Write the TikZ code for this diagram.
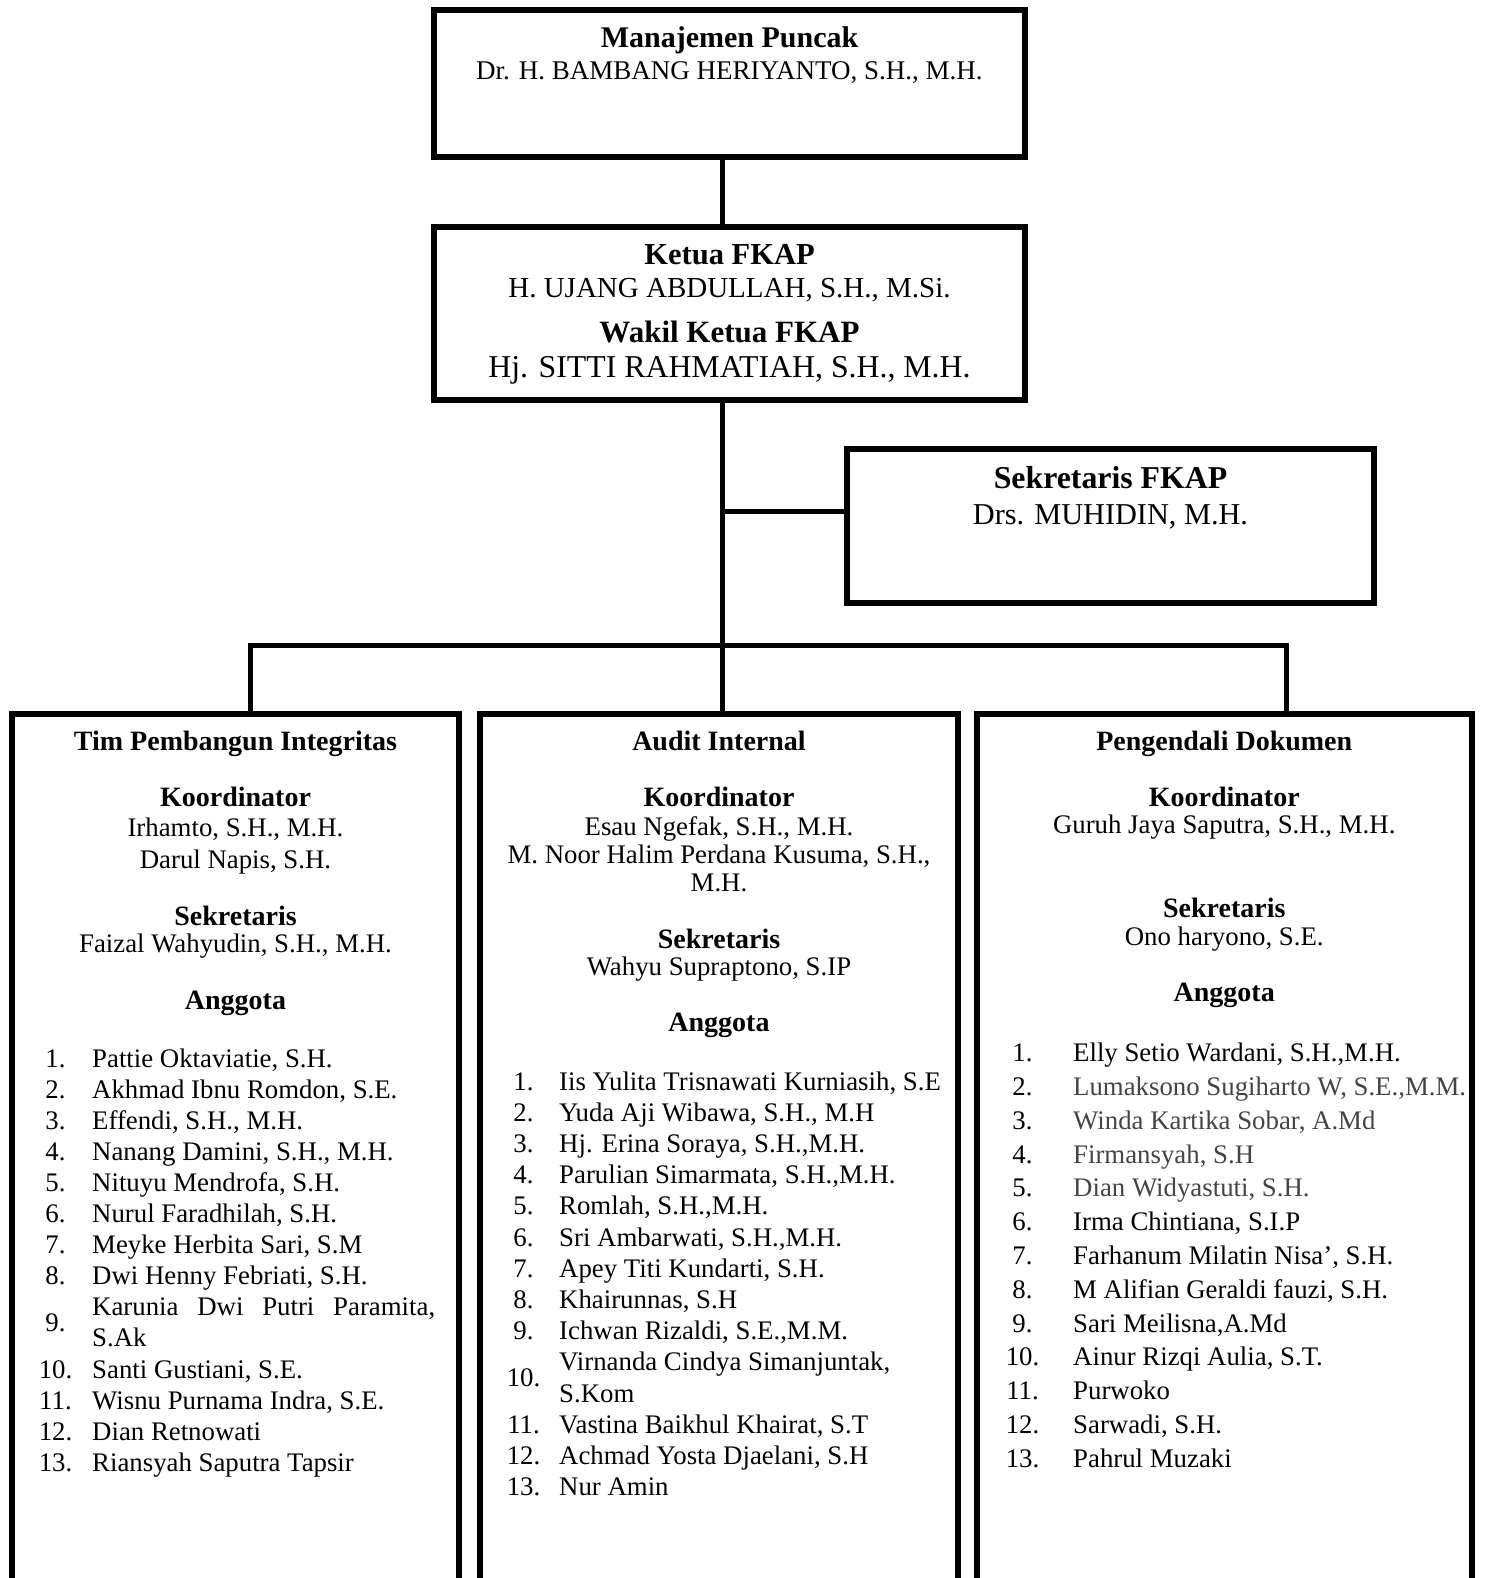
\documentclass[tikz,border=0pt]{standalone}
\usepackage{fontspec}
\setmainfont{Liberation Serif}
\definecolor{greytxt}{RGB}{68,68,68}
\begin{document}
\begin{tikzpicture}[x=1pt,y=-1pt,
  frame/.style={draw,line width=6pt,inner sep=0pt,outer sep=0pt},
  conn/.style={line width=5pt},
  nm/.style={anchor=base,inner sep=0pt,font=\fontsize{26.8}{32}\selectfont},
  nmw/.style={nm,anchor=base west},
  hd/.style={anchor=base,inner sep=0pt,font=\fontsize{28}{32}\selectfont\bfseries},
  tp/.style={anchor=base,inner sep=0pt,font=\fontsize{#1}{34}\selectfont},
  tpb/.style={anchor=base,inner sep=0pt,font=\fontsize{#1}{34}\selectfont\bfseries}]
\useasboundingbox (0,0) rectangle (1484,1578);
\begin{scope}
\clip (0,0) rectangle (1484,1578);
% boxes
\node[frame,minimum width=591pt,minimum height=147pt] (top) at (729.5,83.5) {};
\node[frame,minimum width=591pt,minimum height=173pt] (ketua) at (729.5,313.5) {};
\node[frame,minimum width=527pt,minimum height=154pt] (sek) at (1110.5,526) {};
\node[frame,minimum width=447pt,minimum height=986pt] (left) at (235.5,1207) {};
\node[frame,minimum width=478pt,minimum height=986pt] (mid) at (719,1207) {};
\node[frame,minimum width=495.5pt,minimum height=986pt] (right) at (1224.25,1207) {};
% connectors
\coordinate (spine) at (722.5,645.5);
\coordinate (busL) at (250,645.5);
\coordinate (busR) at (1286,645.5);
\draw[conn] ([xshift=-7pt]top.south) -- ([xshift=-7pt]ketua.north);
\draw[conn] (ketua.south -| spine) -- (spine |- mid.north);
\draw[conn] ([yshift=15pt]sek.west -| spine) -- ([yshift=15pt]sek.west);
\draw[conn] (busL |- left.north) -- (busL) -- (busR) -- (busR |- right.north);
% top texts
\node[tpb=30] (t1) at (729.5,48) {Manajemen Puncak};
\node[tp=27] (t2) at (729.5,79.5) {Dr. H. BAMBANG HERIYANTO, S.H., M.H.};
\node[tpb=30.5] (k1) at (729.5,264.5) {Ketua FKAP};
\node[tp=29] (k2) at (729.5,297.7) {H. UJANG ABDULLAH, S.H., M.Si.};
\node[tpb=31] (k3) at (729.5,342) {Wakil Ketua FKAP};
\node[tp=31.8] (k4) at (729.5,377) {Hj. SITTI RAHMATIAH, S.H., M.H.};
\node[tpb=31.8] (s1) at (1110.5,488) {Sekretaris FKAP};
\node[tp=30.3] (s2) at (1110.5,524) {Drs. MUHIDIN, M.H.};
% left box
\node[hd] (lh) at (235.5,750) {Tim Pembangun Integritas};
\node[hd] (lk) at (235.5,806.7) {Koordinator};
\node[nm] (lk1) at (235.5,836.7) {Irhamto, S.H., M.H.};
\node[nm] (lk2) at (235.5,868) {Darul Napis, S.H.};
\node[hd] (ls) at (235.5,925) {Sekretaris};
\node[nm] (ls1) at (235.5,952.7) {Faizal Wahyudin, S.H., M.H.};
\node[hd] (la) at (235.5,1009) {Anggota};
\foreach \y/\n/\t in {1067/1/{Pattie Oktaviatie, S.H.},
  1098.1/2/{Akhmad Ibnu Romdon, S.E.},
  1129.2/3/{Effendi, S.H., M.H.},
  1160.3/4/{Nanang Damini, S.H., M.H.},
  1191.4/5/{Nituyu Mendrofa, S.H.},
  1222.5/6/{Nurul Faradhilah, S.H.},
  1253.6/7/{Meyke Herbita Sari, S.M},
  1284.7/8/{Dwi Henny Febriati, S.H.},
  1378/10/{Santi Gustiani, S.E.},
  1409.1/11/{Wisnu Purnama Indra, S.E.},
  1440.2/12/{Dian Retnowati},
  1471.3/13/{Riansyah Saputra Tapsir}}{
  \node[nm] (lnum\n) at (55.5,\y) {\n.};
  \node[nmw] (lname\n) at (92,\y) {\t};
}
\node[nm] (lnum9) at (55.5,1331.5) {9.};
\node[nmw] (lname9) at (92,1315.8) {\makebox[343pt][s]{Karunia Dwi Putri Paramita,}};
\node[nmw] (lname9b) at (92,1346.9) {S.Ak};
% middle box
\node[hd] (mh) at (719,750) {Audit Internal};
\node[hd] (mk) at (719,806.7) {Koordinator};
\node[nm] (mk1) at (719,835) {Esau Ngefak, S.H., M.H.};
\node[nm] (mk2) at (719,863.3) {M. Noor Halim Perdana Kusuma, S.H.,};
\node[nm] (mk3) at (719,891.7) {M.H.};
\node[hd] (ms) at (719,948.3) {Sekretaris};
\node[nm] (ms1) at (719,975) {Wahyu Supraptono, S.IP};
\node[hd] (ma) at (719,1031) {Anggota};
\foreach \y/\n/\t in {1090/1/{Iis Yulita Trisnawati Kurniasih, S.E},
  1121.2/2/{Yuda Aji Wibawa, S.H., M.H},
  1152.4/3/{Hj. Erina Soraya, S.H.,M.H.},
  1183.6/4/{Parulian Simarmata, S.H.,M.H.},
  1214.8/5/{Romlah, S.H.,M.H.},
  1246/6/{Sri Ambarwati, S.H.,M.H.},
  1277.2/7/{Apey Titi Kundarti, S.H.},
  1308.4/8/{Khairunnas, S.H},
  1339.6/9/{Ichwan Rizaldi, S.E.,M.M.},
  1433.2/11/{Vastina Baikhul Khairat, S.T},
  1464.4/12/{Achmad Yosta Djaelani, S.H},
  1495.6/13/{Nur Amin}}{
  \node[nm] (mnum\n) at (523.5,\y) {\n.};
  \node[nmw] (mname\n) at (559,\y) {\t};
}
\node[nm] (mnum10) at (523.5,1386.4) {10.};
\node[nmw] (mname10) at (559,1370.8) {Virnanda Cindya Simanjuntak,};
\node[nmw] (mname10b) at (559,1402) {S.Kom};
% right box
\node[hd] (rh) at (1224.25,750) {Pengendali Dokumen};
\node[hd] (rk) at (1224.25,806) {Koordinator};
\node[nm] (rk1) at (1224.25,833.3) {Guruh Jaya Saputra, S.H., M.H.};
\node[hd] (rs) at (1224.25,917.3) {Sekretaris};
\node[nm] (rs1) at (1224.25,945.7) {Ono haryono, S.E.};
\node[hd] (ra) at (1224.25,1001.7) {Anggota};
\foreach \y/\n/\c/\t in {1061.7/1/black/{Elly Setio Wardani, S.H.,M.H.},
  1095.5/2/greytxt/{Lumaksono Sugiharto W, S.E.,M.M.},
  1129.3/3/greytxt/{Winda Kartika Sobar, A.Md},
  1163.1/4/greytxt/{Firmansyah, S.H},
  1196.9/5/greytxt/{Dian Widyastuti, S.H.},
  1230.7/6/black/{Irma Chintiana, S.I.P},
  1264.5/7/black/{Farhanum Milatin Nisa’, S.H.},
  1298.3/8/black/{M Alifian Geraldi fauzi, S.H.},
  1332.1/9/black/{Sari Meilisna,A.Md},
  1365.9/10/black/{Ainur Rizqi Aulia, S.T.},
  1399.7/11/black/{Purwoko},
  1433.5/12/black/{Sarwadi, S.H.},
  1467.3/13/black/{Pahrul Muzaki}}{
  \node[nm] (rnum\n) at (1022.5,\y) {\n.};
  \node[nmw,text=\c] (rname\n) at (1073,\y) {\t};
}
\end{scope}
\end{tikzpicture}
\end{document}
